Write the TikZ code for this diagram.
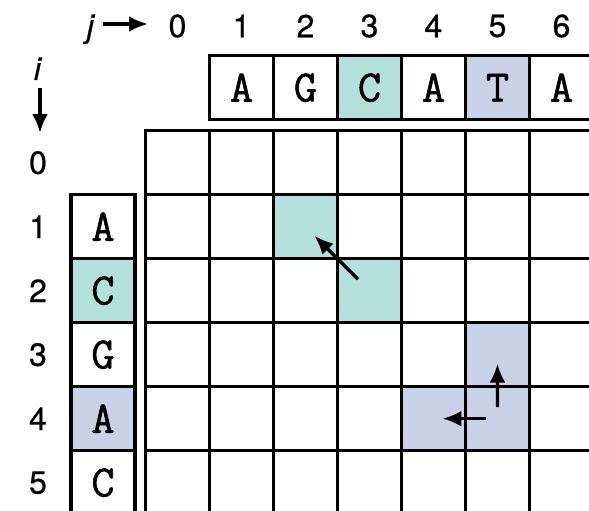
\documentclass[tikz,border=0pt]{standalone}
\usepackage{fontspec}
\newfontfamily\idxfont{TeX Gyre Heros}[FakeBold=0.6]
\newfontfamily\seqfont{Latin Modern Mono}[FakeBold=1.2]
\usetikzlibrary{arrows.meta,calc}

\definecolor{hlteal}{RGB}{179,224,218}
\definecolor{hlblue}{RGB}{201,209,230}

\begin{document}
\begin{tikzpicture}[x=1pt, y=-1pt, line width=3.4pt,
  cell/.style={draw, minimum size=64pt, inner sep=0pt, outer sep=0pt},
  seqbox/.style={cell, font=\seqfont\fontsize{45}{50}\selectfont},
  idx/.style={inner sep=0pt, font=\idxfont\fontsize{32}{36}\selectfont},
  arr/.style={-{Latex[length=19pt,width=16pt]}, line width=3.4pt}]

  %% ════ 高亮格 ════
  \foreach \rr/\cc/\col in {1/2/hlteal, 2/3/hlteal, 3/5/hlblue, 4/4/hlblue, 4/5/hlblue}
    \fill[\col] (145.5+64*\cc,130.7+64*\rr) rectangle ++(64,64);

  %% ════ 矩阵格子 ════
  \foreach \rr in {0,...,5}
    \foreach \cc in {0,...,6}
      \node[cell] (c\rr\cc) at (177.5+64*\cc,162.7+64*\rr) {};

  %% ════ 两条序列 ════
  \foreach \ch/\col [count=\k] in {A/white,G/white,C/hlteal,A/white,T/hlblue,A/white}
    \node[seqbox, fill=\col] (top\k) at (177.5+64*\k,87.7) {\ch};
  \foreach \ch/\col [count=\k] in {A/white,C/hlteal,G/white,A/hlblue,C/white}
    \node[seqbox, fill=\col] (left\k) at (103,162.7+64*\k) {\ch};

  %% ════ 下标 ════
  \foreach \cc in {0,...,6}
    \node[idx] (col\cc) at (177.5+64*\cc,26) {\cc};
  \foreach \rr in {0,...,5}
    \node[idx] (row\rr) at (38,162.7+64*\rr) {\rr};
  \node[idx, anchor=base] (jlab) at (91,37) {\textit{j}};
  \node[idx, anchor=base] (ilab) at (38,80) {\textit{i}};

  \coordinate (jtail) at (103,24);
  \coordinate (jhead) at (148,24);
  \coordinate (itail) at (40,88);
  \coordinate (ihead) at (40,133);
  \draw[arr] (jtail) -- (jhead);
  \draw[arr] (itail) -- (ihead);

  %% ════ 回溯箭头 ════
  \draw[arr] ($(c23)!.18!(c12)$) -- ($(c23)!.86!(c12)$);
  \draw[arr] ($(c45)!.18!(c35)$) -- ($(c45)!.86!(c35)$);
  \draw[arr] ($(c45)!.18!(c44)$) -- ($(c45)!.86!(c44)$);

  % 钉死画布
  \pgfresetboundingbox
  \path[use as bounding box] (0,0) rectangle (589,511);
\end{tikzpicture}
\end{document}
